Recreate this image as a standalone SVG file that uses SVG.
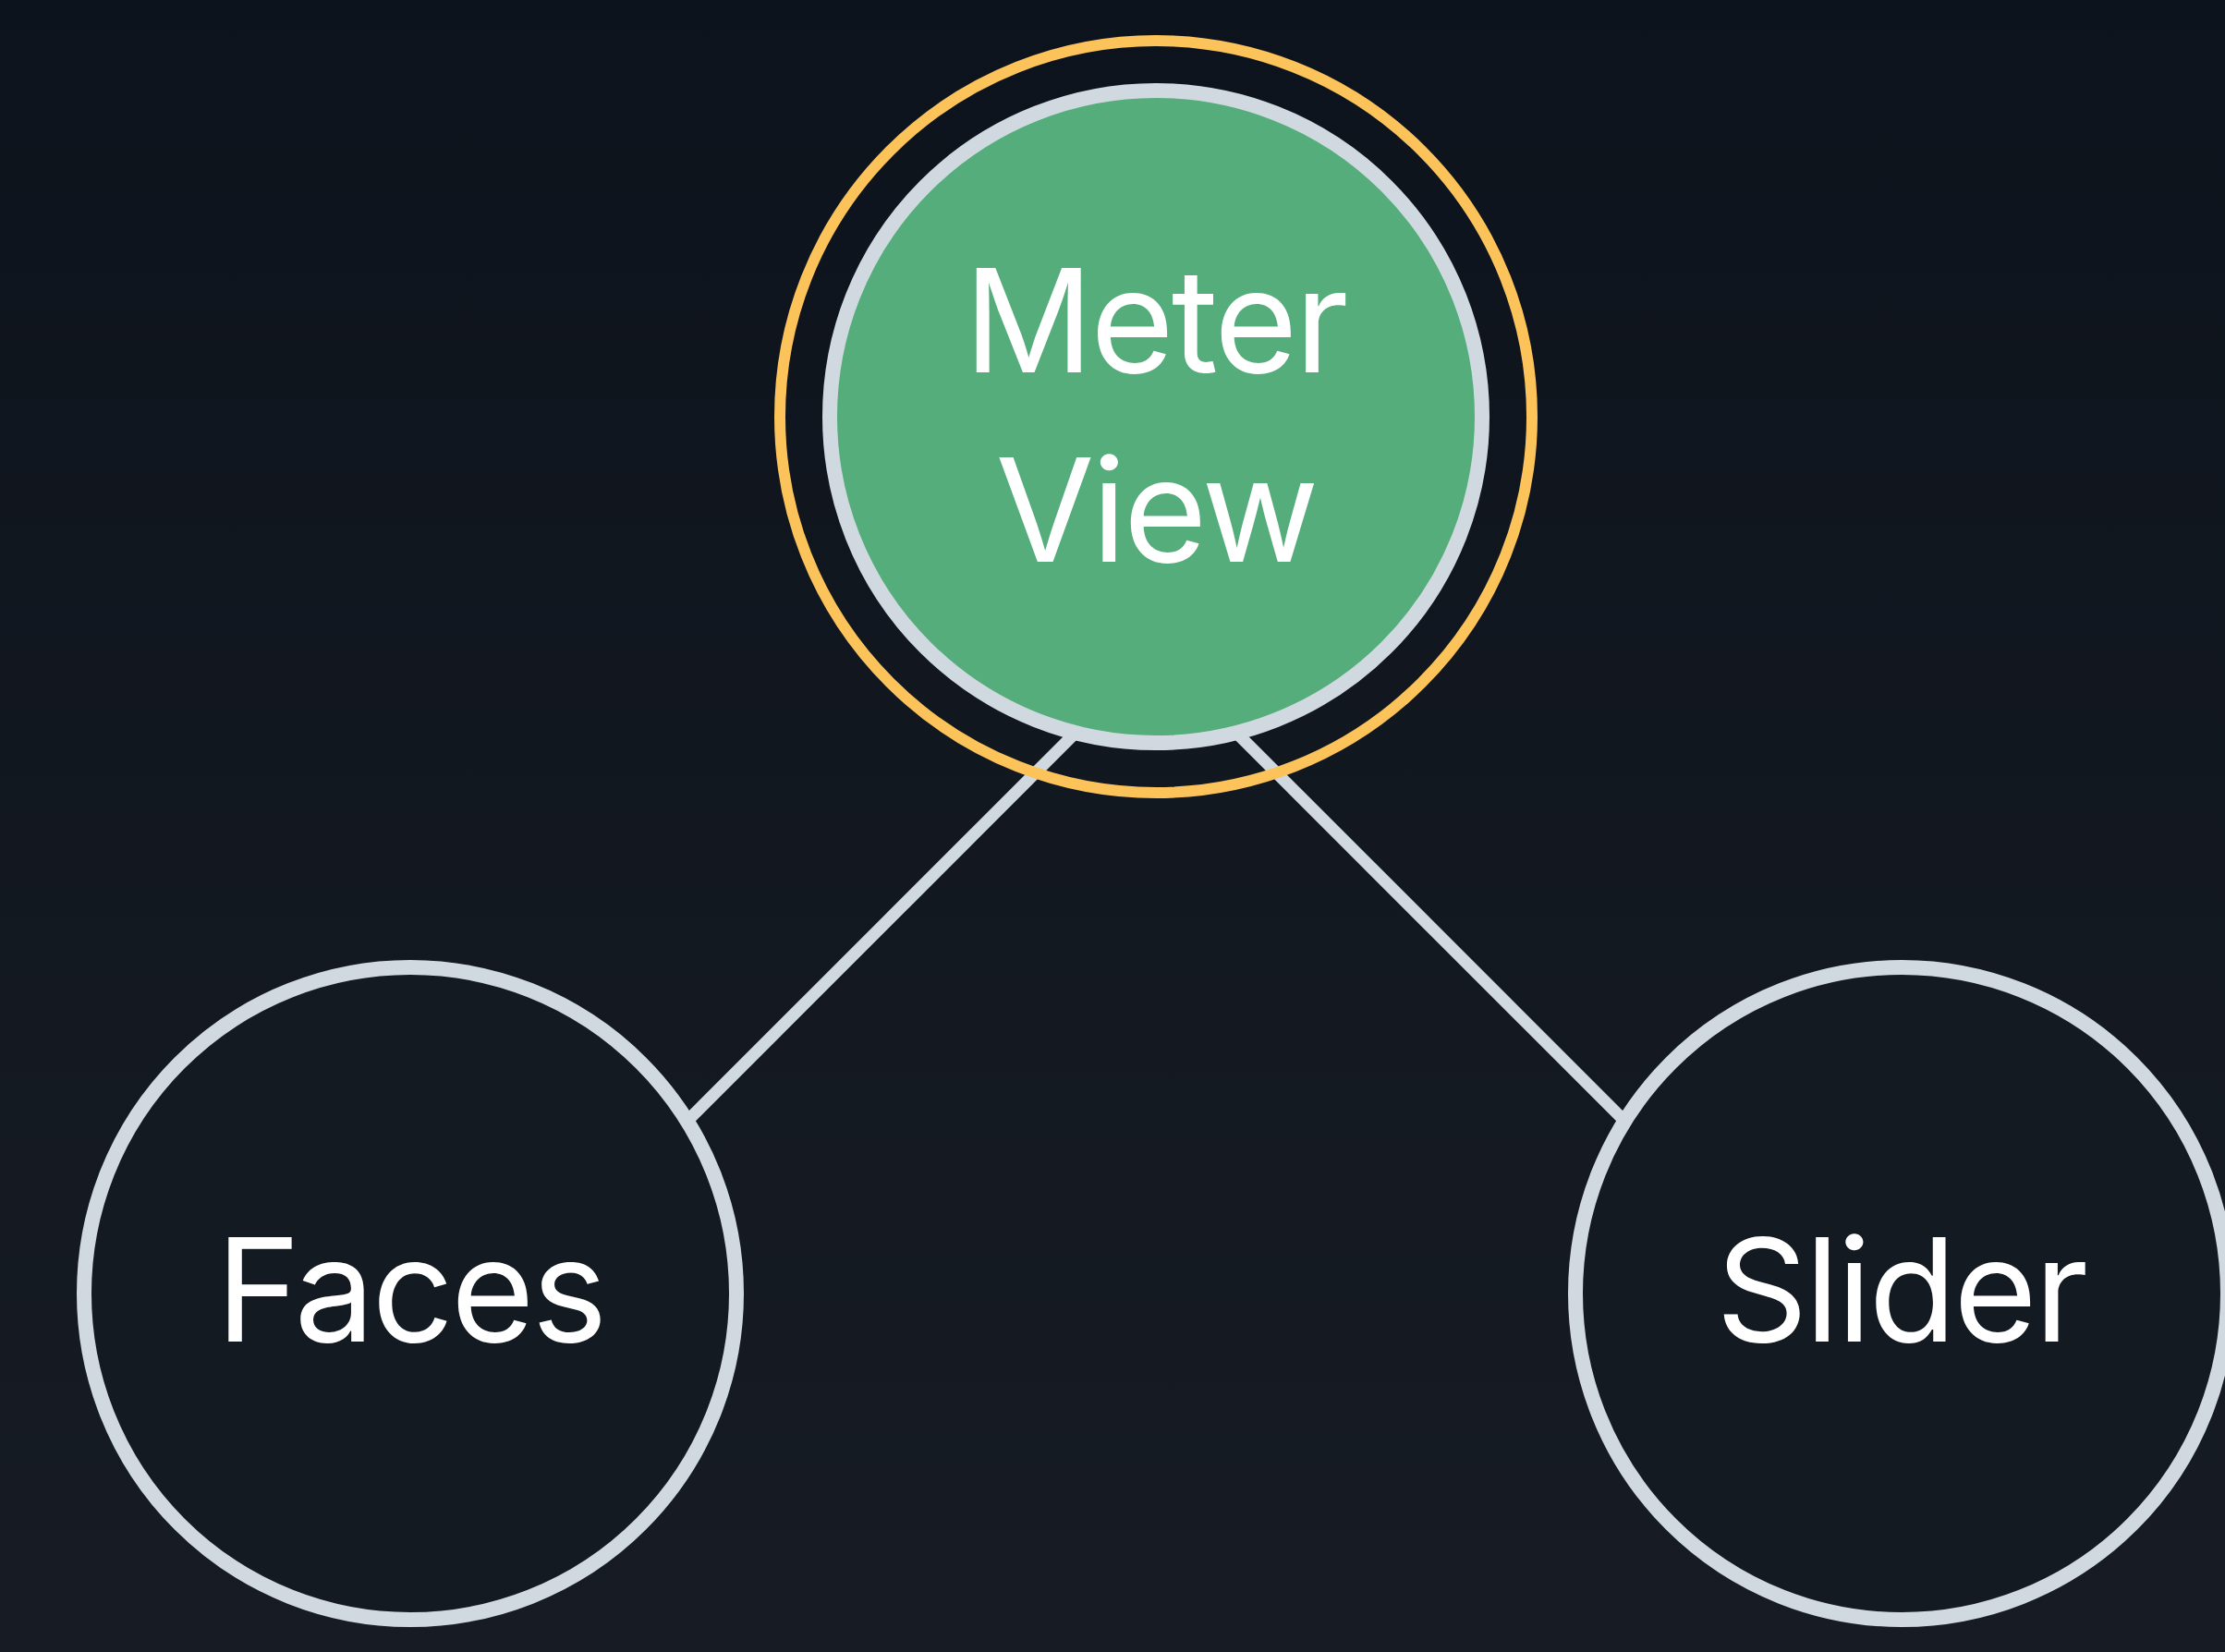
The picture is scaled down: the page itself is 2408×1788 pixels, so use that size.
<svg xmlns="http://www.w3.org/2000/svg" width="2408" height="1788" viewBox="0 0 2408 1788">
  <defs>
    <linearGradient id="bg" x1="0" y1="0" x2="0" y2="1">
      <stop offset="0" stop-color="#0d131c"/>
      <stop offset="1" stop-color="#171c24"/>
    </linearGradient>
    <style>
      .edge { stroke: #d1d9e0; stroke-width: 13; fill: none; }
      .node { stroke: #d1d9e0; stroke-width: 16; fill: #141a22; }
      .active { fill: #55ad7b; }
      .ring { stroke: #fcc35b; stroke-width: 12; fill: none; }
      .label { font-family: Inter, "Liberation Sans", sans-serif; font-size: 155px; letter-spacing: -3px; fill: #ffffff; text-anchor: middle; }
    </style>
  </defs>
  <rect x="0" y="0" width="2408" height="1788" fill="url(#bg)"/>
  <g id="connectors">
    <line class="edge" x1="1180" y1="777" x2="730" y2="1227"/>
    <line class="edge" x1="1322" y1="777" x2="1772" y2="1227"/>
  </g>
  <g id="node-meter-view">
    <circle class="node active" cx="1251" cy="451" r="353"/>
    <circle class="ring" cx="1251" cy="451" r="407"/>
    <text class="label" x="1250" y="403">Meter</text>
    <text class="label" x="1251" y="608">View</text>
  </g>
  <g id="node-faces">
    <circle class="node" cx="444" cy="1400" r="353"/>
    <text class="label" x="444" y="1452">Faces</text>
  </g>
  <g id="node-slider">
    <circle class="node" cx="2058" cy="1400" r="353"/>
    <text class="label" x="2057" y="1452">Slider</text>
  </g>
</svg>
